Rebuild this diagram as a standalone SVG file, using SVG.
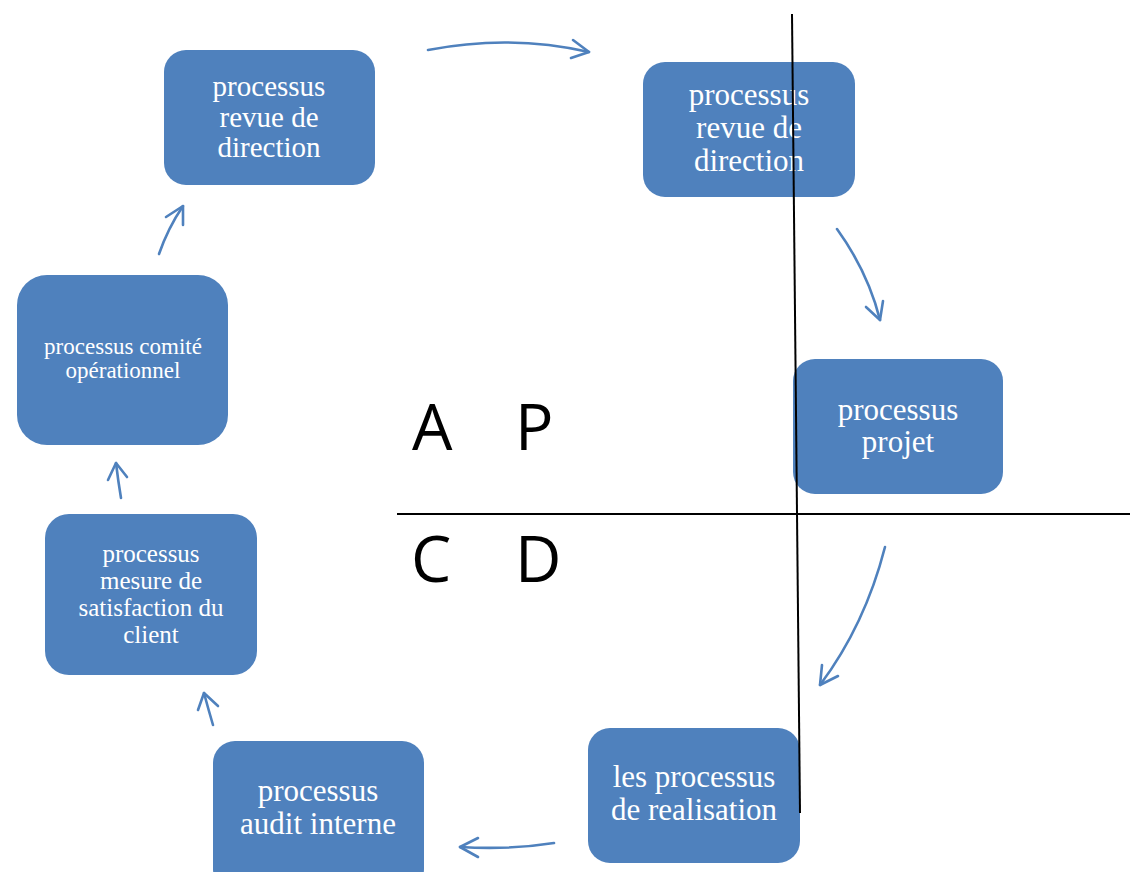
<svg xmlns="http://www.w3.org/2000/svg" width="1130" height="872" viewBox="0 0 1130 872">
  <defs>
    <style>
      .box { fill: #4f81bd; }
      .lbl { fill: #ffffff; font-family: "Liberation Serif", "Times New Roman", serif; text-anchor: middle; }
      .arc { fill: none; stroke: #4f81bd; stroke-width: 2.6; stroke-linecap: round; stroke-linejoin: round; }
      .axis { stroke: #000000; stroke-width: 2; fill: none; }
      .quad { font-family: "Open Sans", "Noto Sans", sans-serif; font-size: 64px; fill: #000000; }
    </style>
  </defs>
  <rect width="1130" height="872" fill="#ffffff"/>

  <!-- process nodes -->
  <g id="node-revue-1">
    <rect class="box" x="164" y="50" width="211" height="135" rx="22"/>
    <text class="lbl" font-size="29" x="269"><tspan x="269" y="96">processus</tspan><tspan x="269" y="127">revue de</tspan><tspan x="269" y="157">direction</tspan></text>
  </g>
  <g id="node-revue-2">
    <rect class="box" x="643" y="62" width="212" height="135" rx="22"/>
    <text class="lbl" font-size="31" x="749"><tspan x="749" y="105">processus</tspan><tspan x="749" y="138">revue de</tspan><tspan x="749" y="171">direction</tspan></text>
  </g>
  <g id="node-projet">
    <rect class="box" x="793" y="359" width="210" height="135" rx="22"/>
    <text class="lbl" font-size="31" x="898"><tspan x="898" y="420">processus</tspan><tspan x="898" y="452">projet</tspan></text>
  </g>
  <g id="node-realisation">
    <rect class="box" x="588" y="728" width="212" height="135" rx="22"/>
    <text class="lbl" font-size="31" x="694"><tspan x="694" y="787">les processus</tspan><tspan x="694" y="820">de realisation</tspan></text>
  </g>
  <g id="node-audit">
    <rect class="box" x="213" y="741" width="211" height="150" rx="22"/>
    <text class="lbl" font-size="31" x="318"><tspan x="318" y="801">processus</tspan><tspan x="318" y="834">audit interne</tspan></text>
  </g>
  <g id="node-mesure">
    <rect class="box" x="45" y="514" width="212" height="161" rx="24"/>
    <text class="lbl" font-size="25" x="151"><tspan x="151" y="562">processus</tspan><tspan x="151" y="589">mesure de</tspan><tspan x="151" y="616">satisfaction du</tspan><tspan x="151" y="643">client</tspan></text>
  </g>
  <g id="node-comite">
    <rect class="box" x="17" y="275" width="211" height="170" rx="30"/>
    <text class="lbl" font-size="23" x="123"><tspan x="123" y="354">processus comité</tspan><tspan x="123" y="378">opérationnel</tspan></text>
  </g>

  <!-- cycle connectors -->
  <g id="connectors">
    <path class="arc" d="M428 50 Q510 34 589 52"/>
    <path class="arc" d="M573 40 L589 52 L571 58"/>

    <path class="arc" d="M837 229 Q868 272 880 320"/>
    <path class="arc" d="M866 307 L880 320 L883 301"/>

    <path class="arc" d="M885 547 Q865 625 820 685"/>
    <path class="arc" d="M822 665 L820 685 L838 676"/>

    <path class="arc" d="M554 843 Q510 850 460 847"/>
    <path class="arc" d="M478 838 L460 847 L478 857"/>

    <path class="arc" d="M213 725 Q208 708 204 693"/>
    <path class="arc" d="M198 710 L204 693 L218 706"/>

    <path class="arc" d="M121 498 Q118 480 116 463"/>
    <path class="arc" d="M108 480 L116 463 L127 477"/>

    <path class="arc" d="M159 254 Q168 228 183 206"/>
    <path class="arc" d="M166 217 L183 206 L183 225"/>
  </g>

  <!-- PDCA axes -->
  <g id="axes">
    <line class="axis" x1="397" y1="514" x2="1130" y2="514"/>
    <line class="axis" x1="792" y1="14" x2="800" y2="813"/>
  </g>

  <g id="quadrants">
    <text class="quad" x="412" y="450">A</text>
    <text class="quad" x="515" y="450">P</text>
    <text class="quad" x="411" y="582">C</text>
    <text class="quad" x="515" y="582">D</text>
  </g>
</svg>
